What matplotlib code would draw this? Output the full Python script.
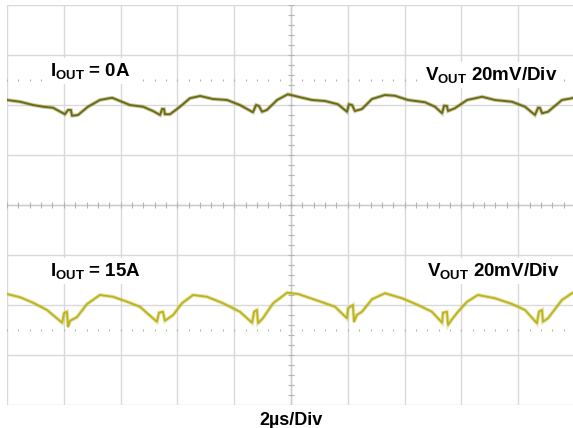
#!/usr/bin/env python3
"""Scope capture: output ripple at IOUT = 0A and IOUT = 15A (20mV/div, 2us/div)."""
import numpy as np
import matplotlib
matplotlib.use("Agg")
import matplotlib.pyplot as plt

plt.rcParams["font.family"] = ["Liberation Sans", "DejaVu Sans"]
plt.rcParams["mathtext.fontset"] = "custom"
plt.rcParams["mathtext.bf"] = "Liberation Sans:bold"
plt.rcParams["mathtext.rm"] = "Liberation Sans:bold"
plt.rcParams["mathtext.it"] = "Liberation Sans:bold"

# time in us (2us/div, 10 div), ripple in mV relative to each trace's position
T_0A = [-10.0, -9.54, -9.08, -8.73, -8.38, -7.96, -7.85, -7.75, -7.71, -7.50,
        -7.15, -6.73, -6.30, -6.02, -5.67, -5.21, -4.86, -4.61, -4.54, -4.47,
        -4.44, -4.26, -3.91, -3.56, -3.20, -2.75, -2.25, -1.80, -1.34, -1.23,
        -1.13, -1.02, -0.85, -0.49, -0.11, 0.25, 0.74, 1.20, 1.65, 1.97,
        2.04, 2.15, 2.25, 2.50, 2.85, 3.31, 3.66, 4.12, 4.72, 5.07,
        5.32, 5.39, 5.49, 5.53, 5.77, 6.20, 6.73, 7.18, 7.78, 8.24,
        8.59, 8.70, 8.77, 8.84, 9.05, 9.54, 9.89, 10.0]
V_0A = [2.0, 1.3, 0.0, -0.7, -1.1, -3.7, -2.0, -2.0, -4.3, -4.0,
        -0.7, 2.0, 2.9, 1.6, 0.0, -0.7, -2.4, -4.0, -1.6, -1.6,
        -3.7, -3.7, -0.7, 2.7, 3.6, 2.4, 2.0, 0.0, -2.9, 0.0,
        -0.4, -2.7, -2.0, 2.0, 4.3, 3.3, 2.0, 1.6, 0.3, -2.7,
        0.3, 0.0, -2.4, -1.6, 2.4, 4.0, 3.7, 2.0, 1.1, -0.7,
        -3.3, -0.3, -0.4, -2.4, -1.3, 2.0, 3.3, 2.0, 1.3, -0.7,
        -4.0, -1.1, -1.2, -3.3, -2.7, 2.0, 2.7, 3.2]

T_15A = [-10.0, -9.54, -9.08, -8.59, -8.06, -7.99, -7.89, -7.85, -7.78, -7.54,
         -7.18, -6.73, -6.27, -5.77, -5.32, -4.72, -4.65, -4.51, -4.44, -4.15,
         -3.84, -3.45, -2.96, -2.39, -1.80, -1.37, -1.30, -1.20, -1.16, -0.99,
         -0.63, -0.14, 0.25, 0.95, 1.55, 1.97, 2.01, 2.18, 2.22, 2.32,
         2.50, 2.85, 3.31, 3.91, 4.47, 4.96, 5.32, 5.35, 5.49, 5.53,
         5.67, 5.88, 6.20, 6.58, 7.18, 7.78, 8.24, 8.66, 8.73, 8.84,
         8.87, 9.05, 9.54, 9.89, 10.0]
V_15A = [4.4, 3.1, 0.9, -2.0, -7.1, -3.3, -2.7, -8.7, -6.3, -4.9,
         0.4, 4.0, 3.3, 1.3, -0.7, -6.7, -3.1, -2.7, -6.3, -4.0,
         0.7, 4.0, 3.3, 0.7, -2.7, -7.1, -2.7, -2.0, -7.3, -5.3,
         0.7, 4.9, 4.4, 1.7, -0.7, -5.3, -1.3, 0.0, -6.7, -4.0,
         -2.7, 2.3, 4.7, 2.7, 0.0, -2.7, -7.1, -3.1, -2.7, -8.0,
         -5.7, -2.7, 1.3, 4.0, 2.7, 0.4, -2.0, -7.3, -2.7, -2.0,
         -6.7, -5.3, 2.0, 4.7, 5.2]

TRACE_POS = {"0A": 40.0, "15A": -40.0}   # mV on screen (+/-2 div)
TRACE_COLORS = {"0A": "#6e6c12", "15A": "#bdb520"}

GRID = "#d9d9d9"
TICK = "#b4b4b4"


def main():
    fig = plt.figure(figsize=(5.73, 4.28), dpi=100)
    ax = fig.add_axes([7 / 573, 23 / 428, 568 / 573, 400 / 428])
    ax.set_xlim(-10, 10)
    ax.set_ylim(-80, 80)
    ax.axis("off")

    # graticule
    for x in np.arange(-10, 10.01, 2):
        ax.axvline(x, color=GRID, lw=1.0, zorder=1)
    for y in np.arange(-80, 80.01, 20):
        ax.axhline(y, color=GRID, lw=1.0, zorder=1)
    ax.axvline(0, color="#cccccc", lw=1.0, zorder=1)
    ax.axhline(0, color="#cccccc", lw=1.0, zorder=1)

    # minor ticks on the centre axes and the two dotted rows
    xt = np.arange(-10, 10.01, 0.4)
    ax.vlines(xt, -1.3, 1.3, color=TICK, lw=0.8, zorder=1)
    for yr in (50, -50):
        ax.vlines(xt, yr - 0.5, yr + 0.5, color=TICK, lw=0.8, zorder=1)
    yt = np.arange(-80, 80.01, 4)
    ax.hlines(yt, -0.1, 0.1, color=TICK, lw=0.8, zorder=1)

    for key, t, v in (("0A", T_0A, V_0A), ("15A", T_15A, V_15A)):
        y = np.asarray(v) + TRACE_POS[key]
        ax.plot(t, y, color=TRACE_COLORS[key], lw=2.8, alpha=0.35, zorder=3,
                solid_joinstyle="miter")
        ax.plot(t, y, color=TRACE_COLORS[key], lw=1.4, zorder=4)

    box = dict(facecolor="white", edgecolor="none", pad=2)
    kw = dict(fontsize=13.5, fontweight="bold", va="baseline", zorder=5, bbox=box)
    ax.text(-8.49, 51.6, r"$\mathbf{I}_\mathbf{OUT}$ = 0A", **kw)
    ax.text(4.72, 50.0, r"$\mathbf{V}_\mathbf{OUT}$ 20mV/Div", **kw)
    ax.text(-8.49, -28.4, r"$\mathbf{I}_\mathbf{OUT}$ = 15A", **kw)
    ax.text(4.79, -28.4, r"$\mathbf{V}_\mathbf{OUT}$ 20mV/Div", **kw)

    fig.text(291 / 573, 3 / 428, "2µs/Div", ha="center", va="baseline",
             fontsize=13, fontweight="bold")

    fig.savefig("out.png", dpi=100, facecolor="white")
    plt.close(fig)


if __name__ == "__main__":
    main()
